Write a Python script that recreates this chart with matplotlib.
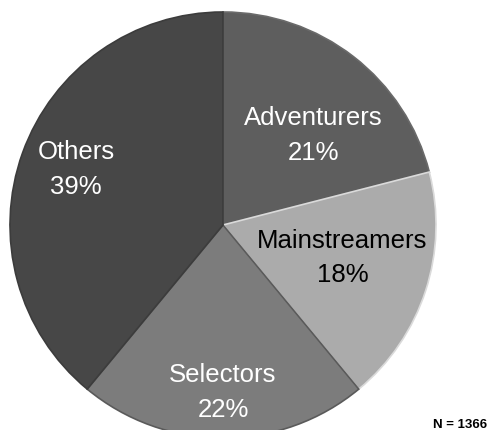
"""Pie chart of customer segments (N = 1366)."""

import matplotlib
matplotlib.use("Agg")
import matplotlib.pyplot as plt
import numpy as np
from matplotlib import font_manager

SEGMENTS = ["Adventurers", "Mainstreamers", "Selectors", "Others"]
SHARES = [21, 18, 22, 39]
SAMPLE_SIZE = 1366

COLORS = ["#5e5e5e", "#ababab", "#7c7c7c", "#474747"]
TEXT_COLORS = ["white", "black", "white", "white"]
EDGE_COLORS = ["#6a6a6a", "#dadada", "#5a5a5a", "#3c3c3c"]
# label placement: (radius as fraction of pie radius, angle in degrees)
LABEL_POS = [(0.60, 45), (0.58, -15), (0.78, -90), (0.74, 159)]


def pick_font() -> str:
    names = {f.name for f in font_manager.fontManager.ttflist}
    for name in ["Liberation Sans Narrow", "Liberation Sans", "DejaVu Sans"]:
        if name in names:
            return name
    return "DejaVu Sans"


def main() -> None:
    family = pick_font()
    narrow = family == "Liberation Sans Narrow"
    label_size = 22 if narrow else 18.5

    fig = plt.figure(figsize=(4.89, 4.31), dpi=100)
    ax = fig.add_axes([10 / 489, -8 / 431, 426 / 489, 426 / 431])

    wedges, _ = ax.pie(
        SHARES,
        colors=COLORS,
        startangle=90,
        counterclock=False,
        radius=1.0,
        wedgeprops={"linewidth": 1.2},
    )
    for wedge, edge in zip(wedges, EDGE_COLORS):
        wedge.set_edgecolor(edge)

    for name, share, color, (dist, angle) in zip(SEGMENTS, SHARES, TEXT_COLORS, LABEL_POS):
        theta = np.deg2rad(angle)
        ax.text(
            dist * np.cos(theta),
            dist * np.sin(theta),
            f"{name}\n{share}%",
            ha="center",
            va="center",
            color=color,
            fontsize=label_size,
            family=family,
            linespacing=1.57,
        )

    ax.set_xlim(-1, 1)
    ax.set_ylim(-1, 1)
    ax.set_aspect("equal")
    ax.axis("off")

    fig.text(
        0.997,
        3 / 431,
        f"N = {SAMPLE_SIZE}",
        ha="right",
        va="baseline",
        fontsize=11 if narrow else 9.5,
        fontweight="bold",
        family=family,
    )

    fig.savefig("out.png", dpi=100)
    plt.close(fig)


if __name__ == "__main__":
    main()
